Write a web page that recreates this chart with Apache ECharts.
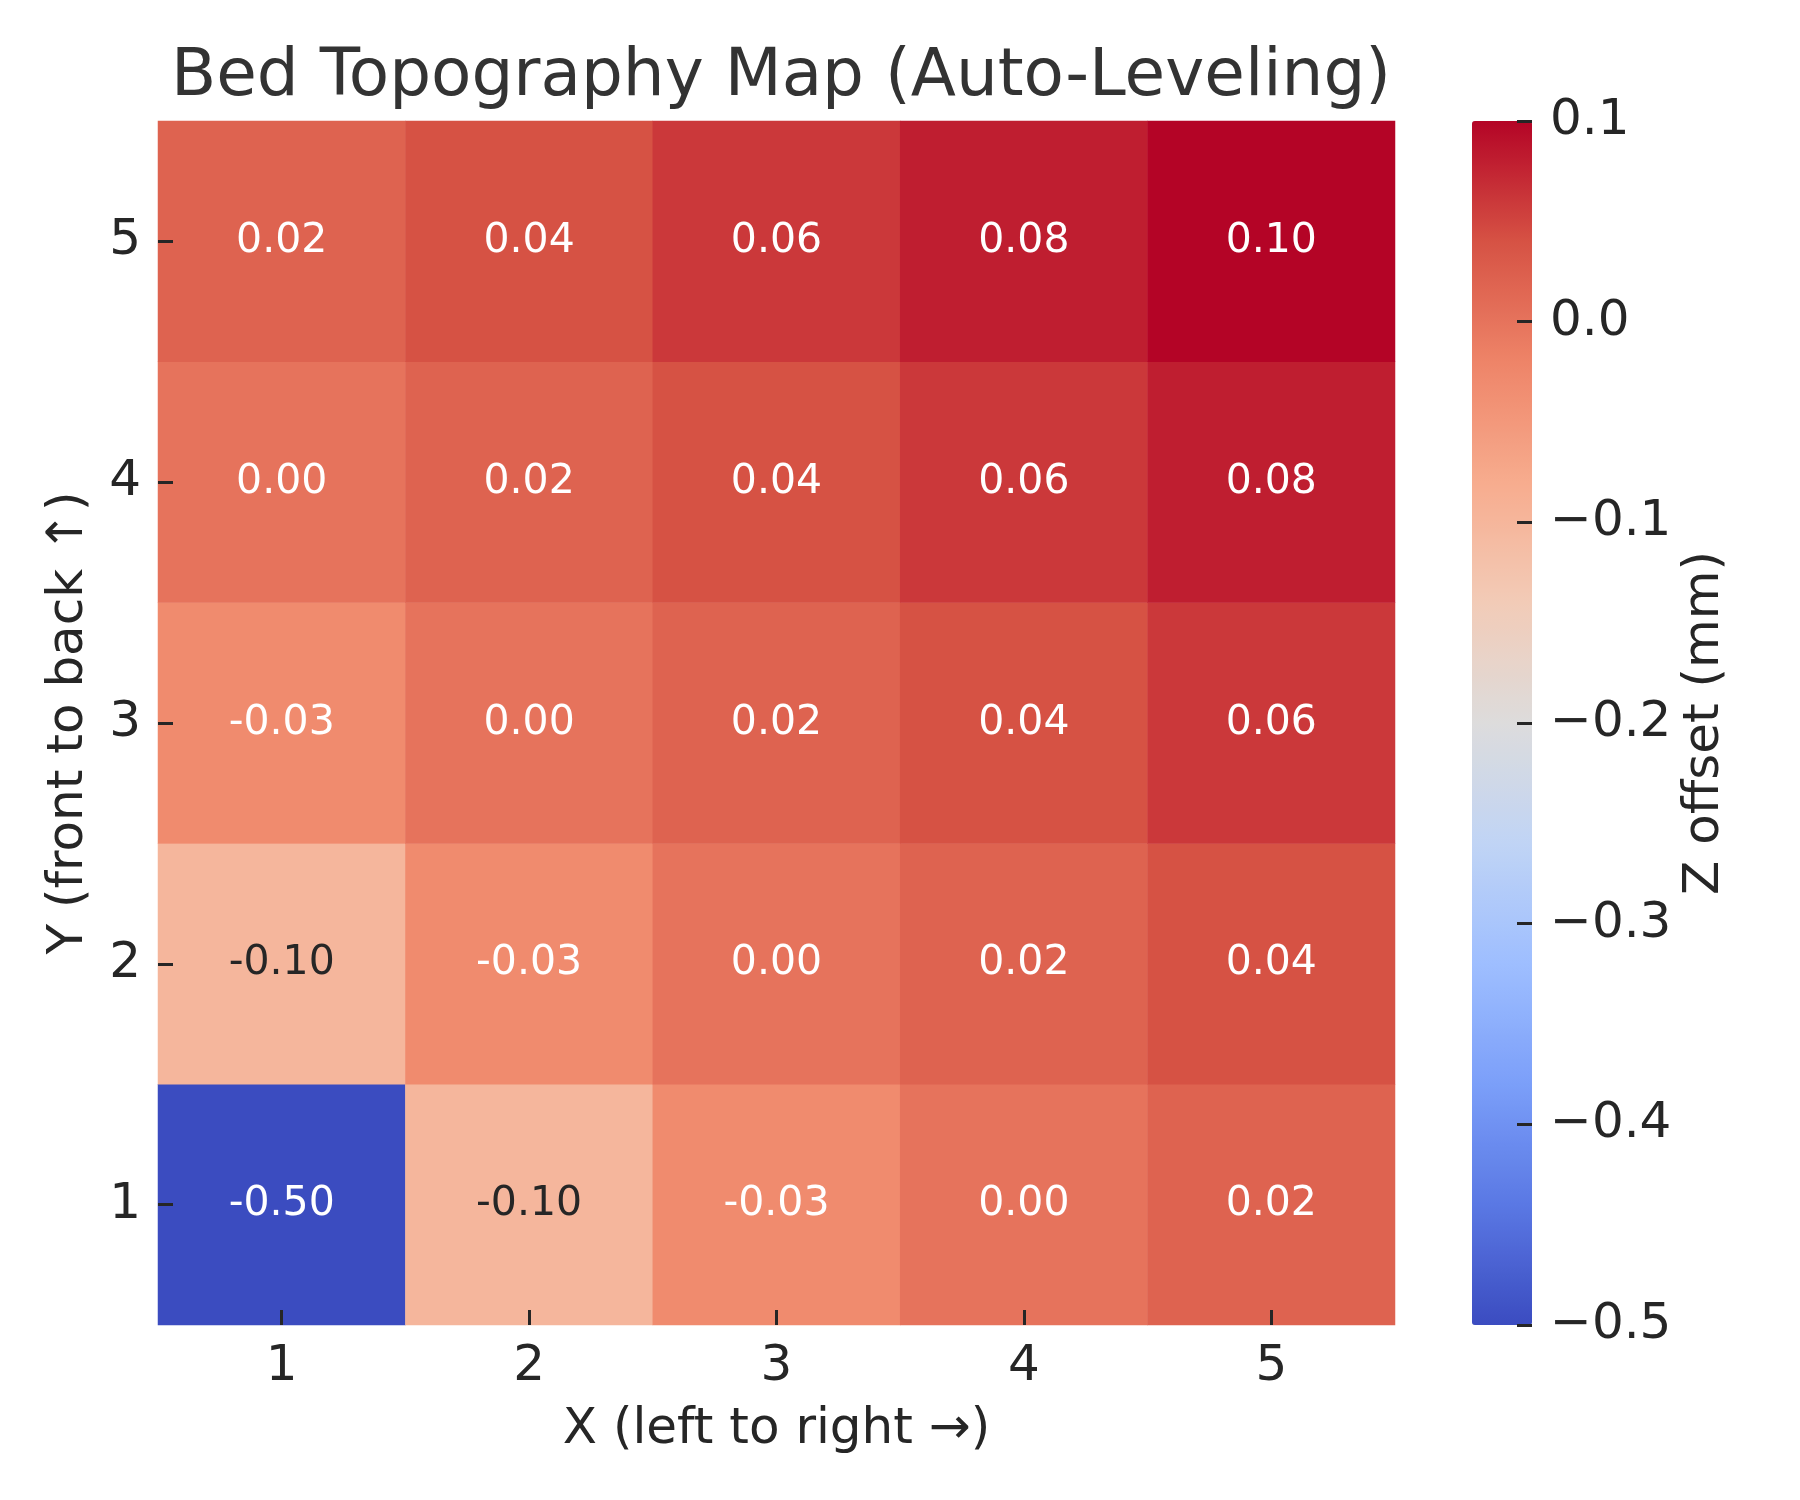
<!DOCTYPE html>
<html>
<head>
<meta charset="utf-8">
<script src="https://cdn.jsdelivr.net/npm/echarts@6/dist/echarts.min.js"></script>
<style>html,body{margin:0;padding:0;background:#fff}#c{width:1800px;height:1500px}</style>
</head>
<body>
<div id="c"></div>
<script>
// ---- data ----
const xCategories = ['1', '2', '3', '4', '5'];
const yCategories = ['1', '2', '3', '4', '5']; // bottom to top
// Z offset rows, indexed by Y (front to back), each row from X=1..5
const row1 = [-0.50, -0.10, -0.03, 0.00, 0.02];
const row2 = [-0.10, -0.03, 0.00, 0.02, 0.04];
const row3 = [-0.03, 0.00, 0.02, 0.04, 0.06];
const row4 = [0.00, 0.02, 0.04, 0.06, 0.08];
const row5 = [0.02, 0.04, 0.06, 0.08, 0.10];
const rows = [row1, row2, row3, row4, row5];
const colorbarTicks = [-0.5, -0.4, -0.3, -0.2, -0.1, 0.0, 0.1];
const zMin = -0.5, zMax = 0.1;

// coolwarm colormap stops
const coolwarm = ['#3b4cc0', '#5a78e4', '#7b9ff9', '#9ebeff', '#c0d4f5', '#dddcdc',
                  '#f2cbb7', '#f7ac8e', '#ee8468', '#d65244', '#b40426'];

function hexToRgb(h) { return [1,3,5].map(i => parseInt(h.substr(i, 2), 16)); }
function cmap(v) {
  let t = (v - zMin) / (zMax - zMin);
  t = Math.max(0, Math.min(1, t)) * (coolwarm.length - 1);
  const i = Math.min(Math.floor(t), coolwarm.length - 2);
  const f = t - i;
  const a = hexToRgb(coolwarm[i]), b = hexToRgb(coolwarm[i + 1]);
  return a.map((c, k) => c + (b[k] - c) * f);
}
function luminance(rgb) {
  const l = rgb.map(c => { c /= 255; return c <= 0.03928 ? c / 12.92 : Math.pow((c + 0.055) / 1.055, 2.4); });
  return 0.2126 * l[0] + 0.7152 * l[1] + 0.0722 * l[2];
}

const heatData = [];
rows.forEach((row, yi) => {
  row.forEach((v, xi) => {
    const dark = luminance(cmap(v)) > 0.408;
    heatData.push({ value: [xi, yi, v], label: { color: dark ? '#262626' : '#ffffff' } });
  });
});

const FONT = 'DejaVu Sans';
const chart = echarts.init(document.getElementById('c'), null, { renderer: 'canvas' });
chart.setOption({
  backgroundColor: '#ffffff',
  animation: false,
  title: {
    text: 'Bed Topography Map (Auto-Leveling)',
    left: 776, top: 40, textAlign: 'center',
    textStyle: { fontFamily: FONT, fontSize: 66, fontWeight: 'normal', color: '#333333' }
  },
  grid: [
    { left: 158, top: 121, width: 1237, height: 1204 },
    { left: 1532, top: 121, width: 200, height: 1204 }
  ],
  xAxis: [
    {
      type: 'category', gridIndex: 0, data: xCategories, z: 10,
      name: 'X (left to right →)', nameLocation: 'middle', nameGap: 80,
      nameTextStyle: { fontFamily: FONT, fontSize: 50, color: '#262626' },
      axisLine: { show: false },
      axisTick: { show: true, inside: true, alignWithLabel: true, length: 15, lineStyle: { color: '#262626', width: 3 } },
      axisLabel: { fontFamily: FONT, fontSize: 50, color: '#262626', margin: 17 },
      splitLine: { show: false }
    },
    { type: 'value', gridIndex: 1, show: false, min: 0, max: 1 }
  ],
  yAxis: [
    {
      type: 'category', gridIndex: 0, data: yCategories, z: 10,
      name: 'Y (front to back ↑)', nameLocation: 'middle', nameGap: 64,
      nameTextStyle: { fontFamily: FONT, fontSize: 50, color: '#262626' },
      axisLine: { show: false },
      axisTick: { show: true, inside: true, alignWithLabel: true, length: 15, lineStyle: { color: '#262626', width: 3 } },
      axisLabel: { fontFamily: FONT, fontSize: 50, color: '#262626', margin: 17 },
      splitLine: { show: false }
    },
    {
      type: 'value', gridIndex: 1, position: 'left', z: 10,
      min: zMin, max: zMax, interval: 0.1,
      axisLine: { show: false },
      axisTick: { show: true, inside: false, length: 15, lineStyle: { color: '#262626', width: 3 } },
      axisLabel: {
        inside: true,
        fontFamily: FONT, fontSize: 50, color: '#262626', margin: 18,
        formatter: v => {
          const m = colorbarTicks.find(t => Math.abs(t - v) < 1e-9);
          const s = (m !== undefined ? m : v).toFixed(1);
          return s.replace('-', '\u2212');
        }
      },
      splitLine: { show: false }
    }
  ],
  graphic: [{
    type: 'text', x: 1705, y: 723, rotation: Math.PI / 2,
    style: {
      text: 'Z offset (mm)', fill: '#262626', font: '50px "DejaVu Sans"',
      textAlign: 'center', textVerticalAlign: 'middle'
    }
  }],
  visualMap: {
    type: 'continuous', min: zMin, max: zMax, seriesIndex: 0,
    orient: 'vertical', left: 1472, top: 121, itemWidth: 60, itemHeight: 1204,
    padding: 0, calculable: false, hoverLink: false, text: null, showLabel: false,
    inRange: { color: coolwarm }, z: 2
  },
  series: [{
    type: 'heatmap', xAxisIndex: 0, yAxisIndex: 0,
    data: heatData,
    label: {
      show: true, fontFamily: FONT, fontSize: 41,
      formatter: p => p.value[2].toFixed(2)
    },
    itemStyle: { borderWidth: 0 },
    emphasis: { disabled: true }
  }]
});
</script>
</body>
</html>
